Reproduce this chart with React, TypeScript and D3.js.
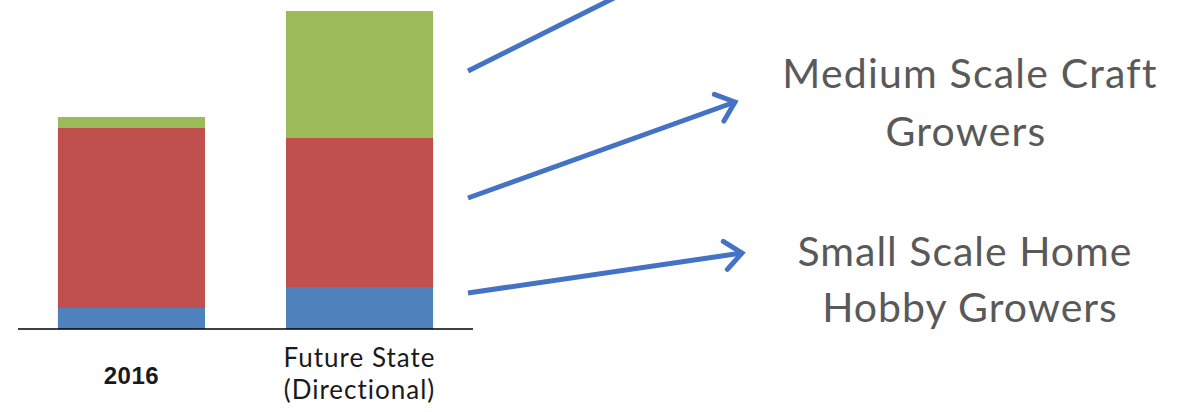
import React from "react";
import * as d3 from "d3";

const categories = ["2016", "Future State (Directional)"];
const seriesNames = ["Small Scale Home Hobby Growers", "Medium Scale Craft Growers", "Large Scale Growers"];
const smallScale = [21, 42];
const mediumScale = [180, 149];
const largeScale = [11, 127];
const seriesColors = ["#4F81BD", "#C0504D", "#9BBB59"];

const W = 1181;
const H = 412;

export default function App() {
  const x = d3.scaleBand<string>().domain(categories).range([18, 473]).paddingInner(0.355).paddingOuter(0.175);
  const y = d3.scaleLinear().domain([0, 318]).range([329, 11]);

  const rows = categories.map((c, i) => ({ cat: c, s0: smallScale[i], s1: mediumScale[i], s2: largeScale[i] }));
  const stack = d3.stack<any>().keys(["s0", "s1", "s2"]);
  const layers = stack(rows);

  const arrowColor = "#4472C4";
  const arrows = [
    { x1: 468, y1: 71, x2: 640, y2: -15, head: false },
    { x1: 468, y1: 198, x2: 735, y2: 102, head: true },
    { x1: 468, y1: 293, x2: 742, y2: 253, head: true },
  ];
  const lineGen = d3.line();

  const headPts = (a: any) => {
    const ang = Math.atan2(a.y2 - a.y1, a.x2 - a.x1);
    const len = 22;
    const spread = (40 * Math.PI) / 180;
    return [
      [a.x2 - len * Math.cos(ang - spread), a.y2 - len * Math.sin(ang - spread)],
      [a.x2, a.y2],
      [a.x2 - len * Math.cos(ang + spread), a.y2 - len * Math.sin(ang + spread)],
    ] as [number, number][];
  };

  const labelFont = "Lato, 'Open Sans', sans-serif";
  const cx1 = (x(categories[1]) as number) + x.bandwidth() / 2;

  return (
    <svg width={W} height={H} style={{ position: "absolute", left: 0, top: 0, background: "#fff" }}>
      {layers.map((layer, li) => (
        <g key={li} fill={seriesColors[li]}>
          {layer.map((d, i) => (
            <rect
              key={i}
              x={x(categories[i])}
              y={y(d[1])}
              width={x.bandwidth()}
              height={y(d[0]) - y(d[1])}
            />
          ))}
        </g>
      ))}
      <line x1={18} x2={473} y1={y(0)} y2={y(0)} stroke="#000" strokeWidth={1.5} />
      <text x={(x(categories[0]) as number) + x.bandwidth() / 2} y={384} textAnchor="middle"
        fontFamily="'Liberation Sans', Arial, sans-serif" fontWeight="bold" fontSize={24} letterSpacing={0.5} fill="#1a1a1a">
        {categories[0]}
      </text>
      <text textAnchor="middle" fontFamily={labelFont} fontSize={26} letterSpacing={1} fill="#1a1a1a">
        <tspan x={cx1} y={367}>Future State</tspan>
        <tspan x={cx1} y={399}>(Directional)</tspan>
      </text>
      {arrows.map((a, i) => (
        <g key={i} stroke={arrowColor} strokeWidth={5} fill="none" strokeLinecap="butt" strokeLinejoin="miter">
          <path d={lineGen([[a.x1, a.y1], [a.x2, a.y2]]) as string} />
          {a.head && <path d={lineGen(headPts(a)) as string} strokeLinecap="round" />}
        </g>
      ))}
      <text textAnchor="middle" fontFamily={labelFont} fontSize={41} letterSpacing={1.2} fill="#595959">
        <tspan x={970} y={88}>Medium Scale Craft</tspan>
        <tspan x={966} y={146}>Growers</tspan>
      </text>
      <text textAnchor="middle" fontFamily={labelFont} fontSize={41} letterSpacing={1} fill="#595959">
        <tspan x={965} y={266}>Small Scale Home</tspan>
        <tspan x={970} y={322}>Hobby Growers</tspan>
      </text>
    </svg>
  );
}
